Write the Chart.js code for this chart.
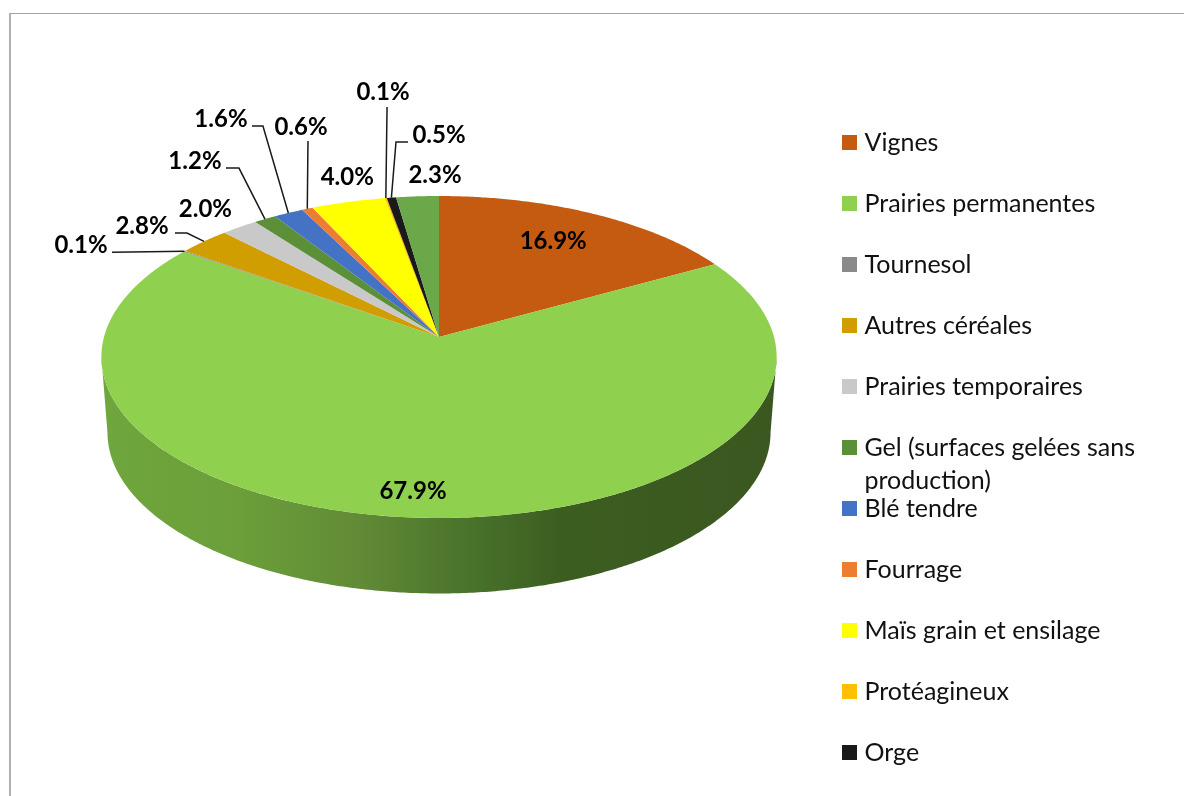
<!DOCTYPE html>
<html lang="fr"><head><meta charset="utf-8">
<script src="https://cdn.jsdelivr.net/npm/chart.js@4"></script>
<style>
html,body{margin:0;padding:0;background:#fff;overflow:hidden}
#frame{position:absolute;left:9px;top:13px;width:1175px;height:783px;border-left:2px solid #b0b0b0;border-top:1px solid #a6a6a6;box-sizing:border-box}
canvas{position:absolute;left:0;top:0}
</style></head><body>
<div id="frame"></div>
<canvas id="c" width="1184" height="796"></canvas>
<script>
const categories = ["Vignes","Prairies permanentes","Tournesol","Autres céréales","Prairies temporaires","Gel (surfaces gelées sans production)","Blé tendre","Fourrage","Maïs grain et ensilage","Protéagineux","Orge","Autres"];
const shares = [16.9,67.9,0.1,2.8,2.0,1.2,1.6,0.6,4.0,0.1,0.5,2.3];
const sliceColors = ["#C55A11","#8FD04F","#8A8A8A","#D09E00","#C9C9C9","#5B8F38","#4472C4","#ED7D31","#FFFF00","#FFC000","#1A1A1A","#6AA84A"];
// hidden from the legend (the reference legend is cut off before this row)
const legendHidden = ["Autres"];
// label centre and leader elbows, as offsets from the slice's outer mid-point
const labelOffsets = [[-39,27.5],[-5.6,-26.7],[-103.5,-6],[-62,-15.4],[-34,-18],[-70,-58],[-67.4,-93.9],[-6.3,-81.8],[-1,-25],[-2.8,-106],[47.6,-62.6],[17.5,-21]];
const leaders = [null,null,[[-72.5,1]],[[-29,-8.4],[-17,-8.4]],null,[[-39,-51],[-26,-51]],[[-36.4,-86.9],[-25.4,-86.9]],[[0.7,-67.8]],null,[[1.2,-91]],[[16.6,-55.6],[4.6,-55.6]],null];

const FONT = "Lato, Carlito, sans-serif";
const CY = 337, SQUASH = 158.5/335, K = 0.1242;
const WALL_DROP = 75.5, WALL_SHRINK = 0.982;

function project(el, a){
  const w = 1 - K*Math.sin(a);
  return {x: el.x + el.outerRadius*Math.cos(a)/w, y: CY + el.outerRadius*SQUASH*Math.sin(a)/w};
}
class Arc3D extends Chart.ArcElement {
  draw(ctx){
    const o = this.options, s = this.startAngle, e = this.endAngle;
    const step = Math.PI/360;
    // front wall
    const lo = Math.asin(K), hi = Math.PI - lo;
    const from = Math.max(s, lo), to = Math.min(e, hi);
    if (to > from){
      const grad = ctx.createLinearGradient(100,0,780,0);
      grad.addColorStop(0,"#6FA63D");grad.addColorStop(.2,"#6C9F3A");grad.addColorStop(.38,"#618B36");
      grad.addColorStop(.56,"#47702A");grad.addColorStop(.68,"#3C5D20");grad.addColorStop(1,"#3A5720");
      ctx.beginPath();
      for(let a=from;a<to;a+=step){const p=project(this,a);ctx.lineTo(p.x,p.y);}
      let p=project(this,to);ctx.lineTo(p.x,p.y);
      for(let a=to;a>from;a-=step){p=project(this,a);ctx.lineTo(this.x+(p.x-this.x)*WALL_SHRINK,p.y+WALL_DROP);}
      p=project(this,from);ctx.lineTo(this.x+(p.x-this.x)*WALL_SHRINK,p.y+WALL_DROP);
      ctx.closePath();ctx.fillStyle=grad;ctx.fill();
    }
    // top face
    ctx.beginPath();
    ctx.moveTo(this.x,CY);
    for(let a=s;a<e;a+=step){const p=project(this,a);ctx.lineTo(p.x,p.y);}
    const p=project(this,e);ctx.lineTo(p.x,p.y);
    ctx.closePath();ctx.fillStyle=o.backgroundColor;ctx.fill();
  }
}
Arc3D.id='arc3d';
Arc3D.defaults={...Chart.ArcElement.defaults};
class Pie3D extends Chart.PieController {}
Pie3D.id='pie3d';
Pie3D.defaults={dataElementType:'arc3d'};
Chart.register(Arc3D,Pie3D);

const labelPlugin={
  id:'labels3d',
  afterDatasetsDraw(chart){
    const ctx=chart.ctx, els=chart.getDatasetMeta(0).data;
    ctx.save();
    ctx.font="bold 24px "+FONT;ctx.textAlign='center';ctx.textBaseline='middle';
    els.forEach((el,i)=>{
      const A=project(el,(el.startAngle+el.endAngle)/2);
      if(leaders[i]){
        ctx.beginPath();
        leaders[i].forEach((d,j)=>{j?ctx.lineTo(A.x+d[0],A.y+d[1]):ctx.moveTo(A.x+d[0],A.y+d[1]);});
        ctx.lineTo(A.x,A.y);
        ctx.strokeStyle='#1a1a1a';ctx.lineWidth=1.5;ctx.stroke();
      }
      ctx.fillStyle='#000';
      ctx.fillText(shares[i].toFixed(1)+'%',A.x+labelOffsets[i][0],A.y+labelOffsets[i][1]);
    });
    ctx.restore();
  },
  afterDraw(chart){
    // second line of the wrapped legend entry
    const lg=chart.legend, i=5, item=lg.legendItems[i], box=lg.legendHitBoxes[i];
    const ctx=chart.ctx, f=lg.options.labels.font;
    ctx.save();ctx.font=f.size+"px "+FONT;ctx.fillStyle='#111';ctx.textAlign='left';ctx.textBaseline='middle';
    const full=categories[item.index];
    ctx.fillText(full.slice(item.text.length+1),box.left+lg.options.labels.pointStyleWidth+f.size/2,box.top+f.size/2+33);
    ctx.restore();
  }
};
function swatch(color){
  const c=document.createElement('canvas');c.width=15;c.height=15;
  const x=c.getContext('2d');x.fillStyle=color;x.fillRect(0,0,15,15);return c;
}
const baseLabels=Chart.overrides.pie.plugins.legend.labels.generateLabels;
const chart=new Chart(document.getElementById('c'),{
  type:'pie3d',
  plugins:[labelPlugin],
  data:{labels:categories,datasets:[{data:shares,backgroundColor:sliceColors,borderWidth:0,radius:335,clip:false}]},
  options:{
    responsive:false,animation:false,
    layout:{padding:{left:67,top:94,right:39,bottom:-30}},
    plugins:{
      tooltip:{enabled:false},
      legend:{
        position:'right',align:'start',
        labels:{
          usePointStyle:true,pointStyleWidth:5,boxHeight:15,padding:36,color:'#111',
          font:{family:FONT,size:25},
          generateLabels(ch){
            return baseLabels(ch).filter(it=>!legendHidden.includes(categories[it.index])).map(it=>{
              const t=categories[it.index];
              return {...it,pointStyle:swatch(sliceColors[it.index]),text:t.startsWith('Gel')?t.slice(0,t.indexOf(' production')):t};
            });
          }
        }
      }
    }
  }
});
</script>
</body></html>
